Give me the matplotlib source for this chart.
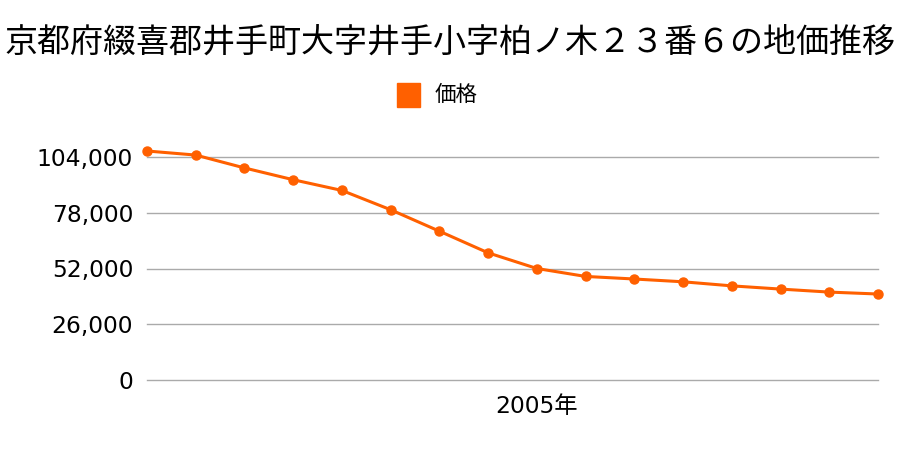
import matplotlib
matplotlib.use("Agg")
import matplotlib.pyplot as plt
from matplotlib.patches import Rectangle
from matplotlib.ticker import FuncFormatter

plt.rcParams['font.family'] = ['Noto Sans CJK JP', 'DejaVu Sans']

# Data
title = "京都府綴喜郡井手町大字井手小字柏ノ木２３番６の地価推移"
series_name = "価格"
years = list(range(1997, 2013))
prices = [106800, 104900, 98900, 93400, 88400, 79400, 69400, 59300,
          52000, 48300, 47100, 45800, 43900, 42400, 41000, 40100]
yticks = [0, 26000, 52000, 78000, 104000]
xtick_years = [2005]

line_color = "#ff6000"
num_font = ['DejaVu Sans', 'Noto Sans CJK JP']

fig = plt.figure(figsize=(9, 4.5), dpi=100)
ax = fig.add_axes([147 / 900, 1 - 380 / 450, 731 / 900, 223 / 450])

ax.plot(years, prices, color=line_color, lw=2.2, marker="o", ms=6.5,
        clip_on=False, zorder=3)

ax.set_xlim(years[0], years[-1])
ax.set_ylim(0, 104000)
ax.set_yticks(yticks)
ax.yaxis.set_major_formatter(FuncFormatter(lambda v, p: f"{int(v):,}"))
ax.set_xticks(xtick_years)
ax.set_xticklabels([f"{y}年" for y in xtick_years])

ax.grid(axis="y", color="#aaaaaa", lw=1)
for gl in ax.yaxis.get_gridlines():
    gl.set_clip_on(False)
ax.set_axisbelow(True)
for s in ax.spines.values():
    s.set_visible(False)
ax.tick_params(axis="y", length=0, pad=10, labelsize=16.8)
ax.tick_params(axis="x", length=0, pad=11, labelsize=16.8)
for lab in ax.get_yticklabels() + ax.get_xticklabels():
    lab.set_family(num_font)

fig.text(0.5, 1 - 42 / 450, title, ha="center", va="center", fontsize=23.8)

# legend
fig.patches.append(Rectangle((397 / 900, 1 - 107 / 450), 23 / 900, 24 / 450,
                             transform=fig.transFigure, color=line_color))
fig.text(435 / 900, 1 - 95 / 450, series_name, ha="left", va="center", fontsize=15.5)

fig.savefig("out.png", dpi=100)
